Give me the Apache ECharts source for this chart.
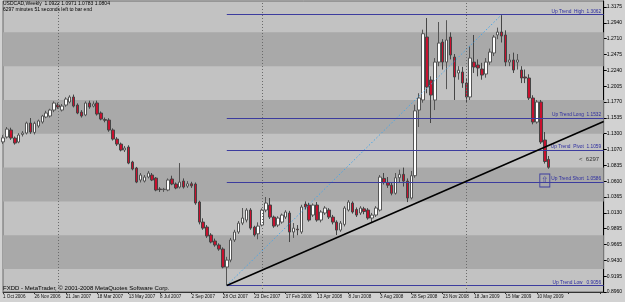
<!DOCTYPE html>
<html><head><meta charset="utf-8">
<script src="https://cdn.jsdelivr.net/npm/echarts@6/dist/echarts.min.js"></script>
<style>html,body{margin:0;padding:0;background:#d2d2d2;}#c{width:625px;height:302px;}</style>
</head><body><div id="c"></div>
<script>
// ---- data ----
const barCount = 140;          // 1 Oct 2006 .. 31 May 2009 (weekly)
const futureSlots = 14;        // empty chart shift on the right
const monthNames = ['Jan','Feb','Mar','Apr','May','Jun','Jul','Aug','Sep','Oct','Nov','Dec'];
const opens = [1.1180,1.1252,1.1356,1.1237,1.1178,1.1290,1.1311,1.1459,1.1320,1.1415,
1.1474,1.1548,1.1563,1.1651,1.1725,1.1651,1.1725,1.1770,1.1844,1.1725,
1.1621,1.1578,1.1755,1.1710,1.1755,1.1607,1.1510,1.1503,1.1356,1.1222,
1.1148,1.1060,1.1104,1.0882,1.0793,1.0616,1.0601,1.0660,1.0690,1.0645,
1.0483,1.0475,1.0468,1.0631,1.0557,1.0512,1.0601,1.0527,1.0560,1.0557,
1.0291,0.9994,0.9920,0.9803,0.9714,0.9655,0.9595,0.9329,0.9432,0.9729,
0.9847,0.9979,1.0024,1.0172,0.9920,0.9820,0.9950,1.0172,1.0246,1.0068,
0.9950,0.9994,1.0068,1.0128,0.9847,0.9890,0.9847,1.0260,1.0246,1.0098,
1.0246,1.0024,1.0128,1.0172,1.0068,0.9994,0.9876,0.9960,1.0172,1.0276,
1.0180,1.0128,1.0190,1.0172,1.0054,1.0098,1.0172,1.0640,1.0580,1.0540,
1.0420,1.0650,1.0700,1.0600,1.0350,1.0680,1.1651,1.1800,1.2731,1.2095,
1.1799,1.2361,1.2657,1.2361,1.2731,1.2435,1.2199,1.2213,1.2051,1.1844,
1.2361,1.2317,1.2258,1.2184,1.2361,1.2495,1.2761,1.2805,1.2761,1.2361,
1.2391,1.2361,1.2243,1.2140,1.2125,1.1829,1.1474,1.1770,1.1208,1.0922];
const highs = [1.1280,1.1400,1.1390,1.1260,1.1310,1.1340,1.1480,1.1533,1.1480,1.1510,
1.1580,1.1640,1.1670,1.1780,1.1760,1.1740,1.1840,1.1870,1.1880,1.1750,
1.1650,1.1780,1.1790,1.1780,1.1790,1.1630,1.1540,1.1530,1.1380,1.1250,
1.1170,1.1120,1.1130,1.0900,1.0810,1.0720,1.0690,1.0750,1.0720,1.0660,
1.0510,1.0500,1.0640,1.0680,1.0580,1.0867,1.0640,1.0600,1.0590,1.0580,
1.0310,1.0050,0.9950,0.9830,0.9750,0.9680,0.9620,0.9480,0.9760,0.9880,
1.0010,1.0202,1.0200,1.0200,0.9940,0.9990,1.0195,1.0365,1.0350,1.0090,
1.0080,1.0120,1.0170,1.0160,0.9980,0.9950,1.0250,1.0300,1.0280,1.0270,
1.0290,1.0170,1.0230,1.0200,1.0100,1.0020,1.0010,1.0230,1.0320,1.0300,
1.0210,1.0230,1.0220,1.0200,1.0130,1.0230,1.0690,1.0720,1.0660,1.0580,
1.0720,1.0770,1.0800,1.0640,1.0750,1.1730,1.1900,1.2840,1.3012,1.2150,
1.2420,1.2953,1.2700,1.2980,1.2800,1.2480,1.2300,1.2290,1.2110,1.2600,
1.2761,1.2400,1.2350,1.2420,1.2560,1.2760,1.2870,1.3062,1.2830,1.2480,
1.2500,1.2480,1.2300,1.2250,1.2180,1.1870,1.1800,1.1800,1.1326,1.0971];
const lows = [1.1150,1.1230,1.1210,1.1140,1.1160,1.1260,1.1290,1.1300,1.1290,1.1390,
1.1450,1.1530,1.1540,1.1620,1.1670,1.1630,1.1700,1.1750,1.1690,1.1590,
1.1540,1.1560,1.1670,1.1690,1.1570,1.1500,1.1470,1.1330,1.1200,1.1120,
1.1040,1.1030,1.0850,1.0760,1.0570,1.0580,1.0580,1.0640,1.0600,1.0450,
1.0440,1.0440,1.0450,1.0540,1.0480,1.0490,1.0490,1.0500,1.0500,1.0250,
0.9960,0.9880,0.9760,0.9680,0.9630,0.9570,0.9310,0.9056,0.9400,0.9700,
0.9820,0.9950,0.9990,0.9880,0.9780,0.9740,0.9930,1.0140,1.0040,0.9910,
0.9920,0.9970,1.0040,0.9699,0.9760,0.9800,0.9820,1.0180,1.0000,1.0070,
1.0000,0.9990,1.0100,1.0040,0.9960,0.9803,0.9850,0.9930,1.0150,1.0120,
1.0070,1.0100,1.0110,1.0030,0.9990,1.0070,1.0150,1.0550,1.0500,1.0390,
1.0400,1.0580,1.0520,1.0290,1.0330,1.0650,1.1400,1.1760,1.1900,1.1459,
1.1651,1.2300,1.2250,1.1960,1.2400,1.1800,1.2100,1.1980,1.1755,1.1800,
1.2200,1.2150,1.2100,1.2130,1.2320,1.2450,1.2700,1.2650,1.2300,1.2300,
1.2200,1.2250,1.2050,1.2050,1.1800,1.1440,1.1450,1.1150,1.0860,1.0783];
const closes = [1.1240,1.1370,1.1237,1.1163,1.1282,1.1311,1.1459,1.1326,1.1455,1.1490,
1.1563,1.1607,1.1651,1.1755,1.1696,1.1710,1.1814,1.1844,1.1710,1.1607,
1.1563,1.1755,1.1696,1.1740,1.1592,1.1518,1.1500,1.1356,1.1222,1.1148,
1.1060,1.1089,1.0867,1.0779,1.0586,1.0690,1.0660,1.0719,1.0616,1.0468,
1.0475,1.0480,1.0616,1.0557,1.0498,1.0586,1.0512,1.0560,1.0530,1.0276,
0.9994,0.9905,0.9788,0.9699,0.9655,0.9595,0.9329,0.9432,0.9729,0.9847,
0.9979,1.0054,1.0172,0.9905,0.9803,0.9935,1.0172,1.0276,1.0068,0.9935,
1.0054,1.0098,1.0143,0.9847,0.9905,0.9880,1.0217,1.0217,1.0024,1.0246,
1.0024,1.0143,1.0202,1.0068,0.9994,0.9876,0.9979,1.0202,1.0291,1.0143,
1.0098,1.0202,1.0150,1.0054,1.0098,1.0202,1.0660,1.0580,1.0540,1.0420,
1.0650,1.0700,1.0600,1.0350,1.0680,1.1640,1.1829,1.2780,1.1992,1.1873,
1.2361,1.2642,1.2361,1.2687,1.2465,1.2140,1.2240,1.2051,1.1844,1.2421,
1.2287,1.2273,1.2169,1.2361,1.2509,1.2731,1.2805,1.2746,1.2361,1.2391,
1.2243,1.2391,1.2125,1.2125,1.1829,1.1474,1.1770,1.1178,1.0890,1.0804];
const yTickLabels = ['0.8960','0.9195','0.9430','0.9665','0.9895','1.0130','1.0365','1.0600','1.0835','1.1070',
'1.1300','1.1535','1.1770','1.2005','1.2240','1.2475','1.2710','1.2940','1.3175'];
const yMin = 0.8960, yMax = 1.3264;
const yStep = (1.3175 - 0.8960) / 18;
const darkBands = [[0.93,0.98],[1.03,1.08],[1.13,1.18],[1.23,1.28]];
const fibNames = ['Up Trend  High  1.3062','Up Trend Long  1.1532','Up Trend  Pivot  1.1059','Up Trend Short  1.0586','Up Trend Low   0.9056'];
const fibLevels = [1.3062, 1.1532, 1.1059, 1.0586, 0.9056];
const fibStartIdx = 57;
const trendLine = [[57, 0.9056], [153, 1.1481]];
const swingLine = [[57, 0.9056], [127, 1.3062]];
const yearSeparatorIdx = [14, 66, 118];
const lastPrice = 1.0804;
const arrowMark = [138, 1.0609];
const titleText = 'USDCAD,Weekly  1.0922 1.0971 1.0783 1.0804';
const subText = '6297 minutes 51 seconds left to bar end';
const countdownText = '<  6297';
const footerText = 'FXDD - MetaTrader, \u00a9 2001-2008 MetaQuotes Software Corp.';

// ---- build ----
const categories = [];
for (let i = 0; i < barCount + futureSlots; i++) {
  const d = new Date(Date.UTC(2006, 9, 1 + 7 * i));
  categories.push(d.getUTCDate() + ' ' + monthNames[d.getUTCMonth()] + ' ' + d.getUTCFullYear());
}
const candleData = opens.map((o, i) => [o, closes[i], lows[i], highs[i]]);
const lastIdx = categories.length - 1;
const FONT = 'Liberation Sans';
const FIB_BLUE = '#3c3c9e';

const markLineData = [];
fibLevels.forEach((lv, k) => {
  markLineData.push([
    {coord: [fibStartIdx, lv], name: fibNames[k],
     lineStyle: {color: FIB_BLUE, width: 1, type: 'solid'},
     label: {show: true, position: 'insideEndTop', formatter: '{b}', color: '#2c2ca0', fontSize: 4.8, fontFamily: FONT, distance: [2.5, 0.5]}},
    {coord: [lastIdx, lv], name: fibNames[k]}
  ]);
});
yearSeparatorIdx.forEach(ix => {
  markLineData.push({xAxis: categories[ix], lineStyle: {color: '#6a6a6a', width: 1, type: [1, 2]}, label: {show: false}});
});
markLineData.push({yAxis: lastPrice, name: String(lastPrice.toFixed(4)),
  lineStyle: {opacity: 0}, label: {show: true, position: 'end', formatter: '{b}', distance: 1.5,
  backgroundColor: '#000', color: '#fff', fontSize: 5, fontFamily: FONT, padding: [1.5, 1, 1, 1]}});

const chart = echarts.init(document.getElementById('c'), null, {renderer: 'canvas'});
chart.setOption({
  animation: false,
  backgroundColor: '#d2d2d2',
  title: {text: titleText, subtext: subText, left: 3, top: 1, padding: 0, itemGap: 1,
    textStyle: {fontSize: 5, fontWeight: 'normal', color: '#000', fontFamily: FONT},
    subtextStyle: {fontSize: 5, color: '#000', fontFamily: FONT}},
  graphic: [
    {type: 'text', left: 3, top: 285.5, z: 100, style: {text: footerText, fontSize: 6, fill: '#000', fontFamily: FONT}},
    {type: 'text', left: 579, top: 156, z: 100, style: {text: countdownText, fontSize: 6, fill: '#333', fontFamily: FONT}}
  ],
  grid: {left: 1.5, right: 19.5, top: 1, bottom: 10, show: true, backgroundColor: '#c2c2c2', borderColor: '#6a6a6a', borderWidth: 1},
  xAxis: {type: 'category', data: categories, boundaryGap: false,
    axisLine: {lineStyle: {color: '#333', width: 1}},
    axisTick: {show: true, interval: 7, length: 2, lineStyle: {color: '#333'}},
    axisLabel: {interval: 7, align: 'left', margin: 2.5, fontSize: 4.6, color: '#111', fontFamily: FONT,
      formatter: (v, i) => (i < barCount ? v : '')},
    splitLine: {show: false}},
  yAxis: {type: 'value', position: 'right', min: yMin, max: yMax, interval: yStep, scale: true,
    axisLine: {show: true, lineStyle: {color: '#000', width: 1}},
    axisTick: {show: true, length: 3, lineStyle: {color: '#000'}},
    axisLabel: {margin: 3, fontSize: 5, color: '#000', fontFamily: FONT, showMaxLabel: false,
      formatter: v => {
        const k = (v - yMin) / yStep;
        const r = Math.round(k);
        return Math.abs(k - r) < 0.01 && yTickLabels[r] ? yTickLabels[r] : '';
      }},
    splitLine: {show: false}},
  series: [
    {type: 'candlestick', data: candleData, barWidth: 3, z: 3,
      itemStyle: {color: '#ffffff', color0: '#c8102e', borderColor: '#555555', borderColor0: '#454545', borderWidth: 1},
      markArea: {silent: true, itemStyle: {color: '#a9a9a9'},
        data: darkBands.map(b => [{yAxis: b[0]}, {yAxis: b[1]}])},
      markLine: {silent: true, symbol: 'none', animation: false, data: markLineData},
      markPoint: {silent: true, animation: false, data: [{coord: arrowMark, symbol: 'rect', symbolSize: [10, 13],
        itemStyle: {color: 'rgba(0,0,0,0)', borderColor: FIB_BLUE, borderWidth: 1},
        label: {show: true, formatter: '\u21e7', color: FIB_BLUE, fontSize: 9, position: 'inside'}}]}
    },
    {type: 'line', data: swingLine, symbol: 'none', z: 4, silent: true,
      lineStyle: {color: '#4aa6e6', width: 1, type: [1.5, 2]}},
    {type: 'line', data: trendLine, symbol: 'none', z: 5, silent: true,
      lineStyle: {color: '#000', width: 1.6}}
  ]
});
</script></body></html>
